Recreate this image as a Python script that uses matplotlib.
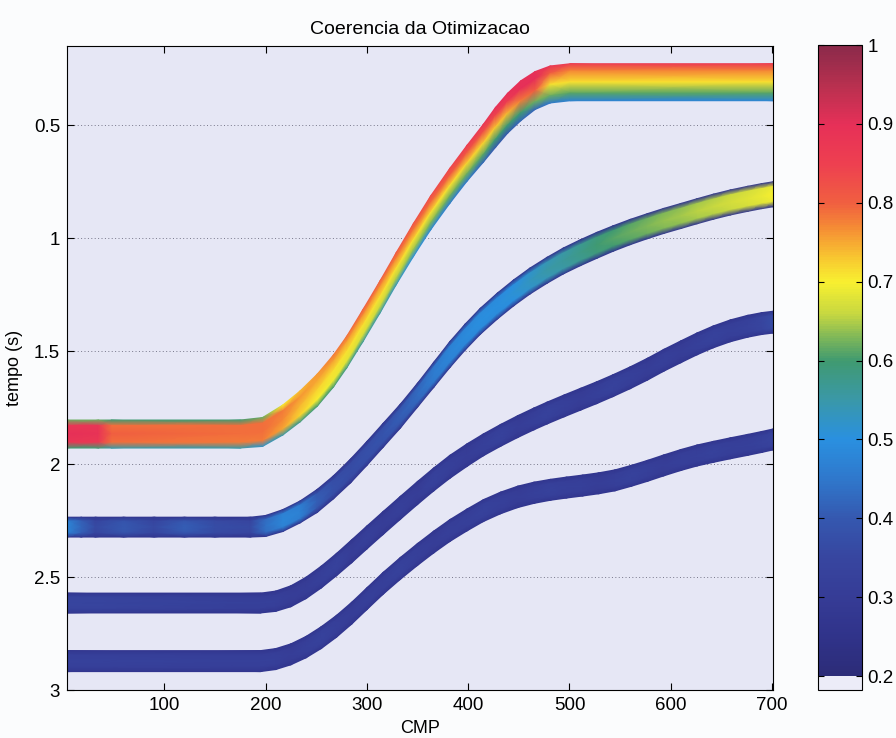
import numpy as np
import matplotlib
matplotlib.use('Agg')
import matplotlib.pyplot as plt
from matplotlib.colors import LinearSegmentedColormap, Normalize

plt.rcParams['font.family'] = ['Liberation Sans', 'DejaVu Sans']

# colour scale (value -> colour)
cmap_vals = [0.2, 0.25, 0.3, 0.35, 0.4, 0.45, 0.5, 0.55, 0.6, 0.63, 0.66,
             0.7, 0.73, 0.77, 0.8, 0.85, 0.9, 0.95, 1.0]
cmap_cols = ['#2c2c78', '#30338a', '#363c96', '#3746a0', '#3558b0', '#2f78cc',
             '#2a90e0', '#3a98a8', '#409a70', '#80b858', '#c8d840', '#f8f030',
             '#f8c830', '#f58a35', '#f06040', '#ee4050', '#e63058', '#b8304f',
             '#8a2a4a']
cbar_ticks = [0.2, 0.3, 0.4, 0.5, 0.6, 0.7, 0.8, 0.9, 1.0]

# horizon 1 (top, high coherence)
h1_cmp = [4, 35, 48, 175, 197, 217, 234, 251, 267, 280, 296, 313, 329, 346,
          363, 382, 399, 415, 427, 439, 452, 466, 481, 501, 701]
h1_t = [1.867, 1.867, 1.867, 1.867, 1.858, 1.805, 1.745, 1.673, 1.588, 1.505,
        1.388, 1.260, 1.135, 1.008, 0.888, 0.768, 0.668, 0.580, 0.510, 0.447,
        0.392, 0.347, 0.320, 0.310, 0.310]
h1_dt = [0.124, 0.124, 0.124, 0.124, 0.128, 0.133, 0.137, 0.142, 0.142, 0.140,
         0.142, 0.142, 0.142, 0.146, 0.150, 0.155, 0.159, 0.168, 0.177, 0.177,
         0.177, 0.168, 0.164, 0.164, 0.164]
# coherence across the band: top edge, upper, middle, lower, bottom edge
h1_coh = [
    [0.62, 0.62, 0.60, 0.60, 0.62, 0.70, 0.74, 0.76, 0.78, 0.79, 0.80, 0.80, 0.81,
     0.82, 0.83, 0.84, 0.86, 0.88, 0.90, 0.90, 0.90, 0.90, 0.88, 0.86, 0.86],
    [0.88, 0.88, 0.79, 0.79, 0.79, 0.78, 0.76, 0.75, 0.75, 0.75, 0.76, 0.76, 0.77,
     0.78, 0.79, 0.80, 0.81, 0.82, 0.84, 0.86, 0.90, 0.90, 0.80, 0.77, 0.77],
    [0.90, 0.89, 0.80, 0.79, 0.79, 0.77, 0.74, 0.72, 0.71, 0.71, 0.71, 0.71, 0.71,
     0.71, 0.71, 0.71, 0.72, 0.72, 0.73, 0.74, 0.78, 0.80, 0.71, 0.71, 0.71],
    [0.88, 0.87, 0.79, 0.78, 0.78, 0.75, 0.72, 0.70, 0.69, 0.68, 0.67, 0.66, 0.65,
     0.64, 0.63, 0.62, 0.62, 0.61, 0.60, 0.60, 0.60, 0.62, 0.62, 0.61, 0.61],
    [0.60, 0.60, 0.55, 0.55, 0.52, 0.55, 0.58, 0.60, 0.60, 0.58, 0.56, 0.55, 0.53,
     0.50, 0.48, 0.46, 0.45, 0.42, 0.40, 0.40, 0.42, 0.42, 0.45, 0.47, 0.48],
]

# horizon 2
h2_cmp = [4, 18, 32, 60, 90, 120, 150, 185, 200, 217, 234, 251, 267, 284, 300,
          316, 333, 350, 366, 382, 397, 412, 429, 445, 461, 478, 494, 511, 527,
          543, 560, 577, 593, 610, 626, 642, 659, 676, 690, 701]
h2_t = [2.279, 2.279, 2.279, 2.279, 2.279, 2.279, 2.279, 2.279, 2.274, 2.250,
        2.212, 2.163, 2.103, 2.030, 1.953, 1.873, 1.788, 1.695, 1.605, 1.515,
        1.438, 1.368, 1.300, 1.242, 1.190, 1.142, 1.101, 1.064, 1.032, 1.002,
        0.973, 0.947, 0.924, 0.902, 0.881, 0.861, 0.842, 0.826, 0.814, 0.806]
h2_dt = [0.088, 0.088, 0.088, 0.088, 0.088, 0.088, 0.088, 0.088, 0.093, 0.097,
         0.097, 0.102, 0.102, 0.106, 0.106, 0.106, 0.106, 0.106, 0.111, 0.115,
         0.115, 0.115, 0.115, 0.115, 0.115, 0.115, 0.115, 0.115, 0.115, 0.113,
         0.112, 0.111, 0.111, 0.111, 0.111, 0.111, 0.111, 0.111, 0.111, 0.111]
h2_mid = [0.48, 0.42, 0.36, 0.40, 0.36, 0.41, 0.37, 0.36, 0.44, 0.48, 0.47,
          0.41, 0.38, 0.37, 0.38, 0.39, 0.41, 0.43, 0.46, 0.48, 0.49, 0.50,
          0.50, 0.51, 0.53, 0.55, 0.56, 0.58, 0.60, 0.61, 0.62, 0.63, 0.64,
          0.645, 0.655, 0.66, 0.67, 0.68, 0.69, 0.70]

# horizon 3
h3_cmp = [4, 195, 210, 225, 240, 255, 270, 285, 300, 316, 333, 350, 366, 382,
          399, 415, 432, 449, 465, 478, 495, 511, 527, 543, 560, 577, 593, 610,
          626, 642, 659, 676, 690, 701]
h3_t = [2.615, 2.615, 2.607, 2.585, 2.548, 2.500, 2.445, 2.386, 2.325, 2.261,
        2.194, 2.128, 2.068, 2.012, 1.960, 1.915, 1.873, 1.834, 1.800, 1.774,
        1.742, 1.713, 1.684, 1.653, 1.618, 1.580, 1.541, 1.503, 1.468, 1.437,
        1.410, 1.390, 1.378, 1.372]
h3_dt = [0.088, 0.088, 0.090, 0.093, 0.095, 0.097, 0.099, 0.102, 0.102, 0.102,
         0.102, 0.102, 0.102, 0.102, 0.100, 0.097, 0.097, 0.097, 0.097, 0.097,
         0.097, 0.097, 0.097, 0.097, 0.097, 0.097, 0.097, 0.097, 0.097, 0.097,
         0.097, 0.097, 0.097, 0.097]
h3_mid = [0.35, 0.32, 0.32, 0.31, 0.31, 0.32, 0.33, 0.31, 0.32, 0.31, 0.32,
          0.31, 0.33, 0.32, 0.31, 0.32, 0.33, 0.31, 0.32, 0.33, 0.32, 0.31,
          0.32, 0.33, 0.32, 0.31, 0.32, 0.31, 0.32, 0.33, 0.32, 0.33, 0.35,
          0.37]

# horizon 4 (deepest)
h4_cmp = [4, 195, 210, 225, 240, 255, 270, 285, 300, 316, 333, 350, 366, 382,
          399, 415, 432, 449, 465, 481, 497, 513, 529, 545, 561, 577, 593, 610,
          626, 642, 659, 676, 690, 701]
h4_t = [2.872, 2.872, 2.863, 2.842, 2.810, 2.768, 2.718, 2.660, 2.596, 2.528,
        2.462, 2.400, 2.345, 2.294, 2.247, 2.206, 2.172, 2.145, 2.127, 2.114,
        2.104, 2.095, 2.085, 2.072, 2.052, 2.030, 2.006, 1.982, 1.962, 1.946,
        1.930, 1.915, 1.902, 1.891]
h4_dt = [0.093, 0.093, 0.093, 0.093, 0.095, 0.097, 0.097, 0.097, 0.097, 0.097,
         0.097, 0.097, 0.097, 0.097, 0.097, 0.097, 0.096, 0.095, 0.094, 0.093,
         0.093, 0.093, 0.093, 0.093, 0.093, 0.093, 0.093, 0.093, 0.093, 0.093,
         0.093, 0.093, 0.093, 0.093]
h4_mid = [0.33, 0.32, 0.32, 0.31, 0.32, 0.33, 0.32, 0.31, 0.32, 0.32, 0.33,
          0.32, 0.31, 0.32, 0.32, 0.33, 0.32, 0.31, 0.32, 0.33, 0.32, 0.32,
          0.31, 0.32, 0.33, 0.32, 0.31, 0.32, 0.32, 0.33, 0.32, 0.32, 0.33,
          0.34]

rim = 0.27          # darker border of the weak horizons
background = '#e6e7f5'

cmap = LinearSegmentedColormap.from_list(
    'coer', [((v - 0.2) / 0.8, c) for v, c in zip(cmap_vals, cmap_cols)], N=256)
cmap.set_under('#ececf8')
norm = Normalize(vmin=0.2, vmax=1.0)

layers = np.array([-0.5, -0.3, 0.0, 0.3, 0.5])


def draw_band(ax, cmp, t, dt, coh):
    cmp = np.asarray(cmp, float)
    t = np.asarray(t, float)
    dt = np.asarray(dt, float)
    X = np.tile(cmp, (len(layers), 1))
    Y = t[None, :] + layers[:, None] * dt[None, :]
    return ax.pcolormesh(X, Y, np.asarray(coh, float), cmap=cmap, norm=norm,
                         shading='gouraud', zorder=2)


def weak_layers(mid):
    mid = list(mid)
    edge = [rim] * len(mid)
    inner = [m - 0.01 for m in mid]
    return [edge, inner, mid, inner, edge]


fig = plt.figure(figsize=(8.96, 7.38), dpi=100, facecolor='#fbfcfd')
ax = fig.add_axes([0.0748, 0.065, 0.788, 0.8726])
ax.set_facecolor(background)

draw_band(ax, h1_cmp, h1_t, h1_dt, h1_coh)
draw_band(ax, h2_cmp, h2_t, h2_dt, weak_layers(h2_mid))
draw_band(ax, h3_cmp, h3_t, h3_dt, weak_layers(h3_mid))
draw_band(ax, h4_cmp, h4_t, h4_dt, weak_layers(h4_mid))

ax.set_xlim(4, 701)
ax.set_ylim(3, 0.15)
ax.set_xticks([100, 200, 300, 400, 500, 600, 700])
ax.set_yticks([0.5, 1, 1.5, 2, 2.5, 3])
ax.set_yticklabels(['0.5', '1', '1.5', '2', '2.5', '3'])
ax.tick_params(direction='in', top=True, right=True, length=5, width=0.8,
               labelsize=13.5, pad=5)
ax.set_axisbelow(True)
ax.yaxis.grid(True, color='#77778a', lw=0.7, ls=(0, (1, 2.5)))
for s in ax.spines.values():
    s.set_linewidth(0.8)

ax.set_title('Coerencia da Otimizacao', fontsize=14, pad=9)
ax.set_xlabel('CMP', fontsize=13, labelpad=4)
ax.set_ylabel('tempo (s)', fontsize=13, labelpad=8)

cax = fig.add_axes([0.913, 0.065, 0.049, 0.874])
sm = matplotlib.cm.ScalarMappable(norm=norm, cmap=cmap)
cb = fig.colorbar(sm, cax=cax, extend='min', extendrect=True, extendfrac=0.022)
cb.set_ticks(cbar_ticks)
cb.set_ticklabels(['0.2', '0.3', '0.4', '0.5', '0.6', '0.7', '0.8', '0.9', '1'])
cax.tick_params(direction='in', left=True, right=True, length=4, width=0.8,
                labelsize=13.5, pad=4)
cb.outline.set_linewidth(0.8)

fig.savefig('out.png', dpi=100, facecolor=fig.get_facecolor())
